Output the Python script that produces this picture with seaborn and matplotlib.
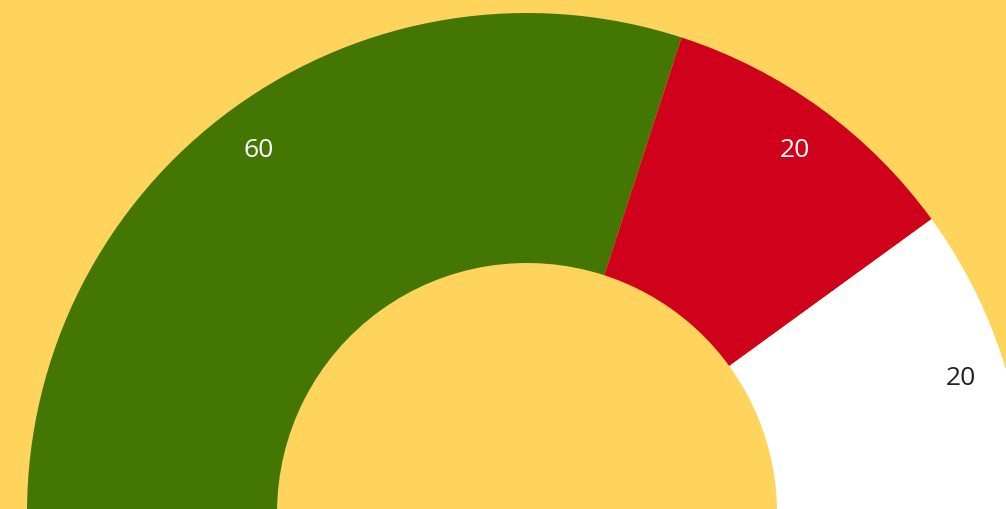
import numpy as np
import matplotlib
matplotlib.use("Agg")
import matplotlib.pyplot as plt
import seaborn as sns

# gauge data: the three visible segments fill half of the ring
labels = ["60", "20", "20"]
values = [60, 20, 20]
colors = ["#447604", "#D0021B", "#FFFFFF"]
text_colors = ["#FFFFFF", "#FFFFFF", "#222222"]
bg = "#FFD45C"

sns.set_style("white")
plt.rcParams["font.family"] = ["Open Sans", "DejaVu Sans"]

fig = plt.figure(figsize=(10.06, 5.10), dpi=100)
fig.patch.set_facecolor(bg)
ax = fig.add_axes([0, 0, 1, 1])
ax.set_facecolor(bg)

# hidden lower half so the shown wedges span 180 degrees
pie_vals = values + [sum(values)]
pie_cols = colors + [bg]
wedges, _ = ax.pie(pie_vals, colors=pie_cols, startangle=180, counterclock=False,
                   radius=500, center=(0, 0),
                   wedgeprops=dict(width=250, edgecolor="none", linewidth=0))
wedges[-1].set_visible(False)

for w, lab, tc in zip(wedges[:3], labels, text_colors):
    ang = np.deg2rad((w.theta1 + w.theta2) / 2)
    r = 456
    ax.text(r * np.cos(ang), r * np.sin(ang) - 5, lab, color=tc, fontsize=19,
            ha="center", va="center")

ax.set_xlim(-527, 479)
ax.set_ylim(4, 514)
ax.set_aspect("auto")
ax.axis("off")

fig.savefig("out.png", dpi=100, facecolor=bg)
